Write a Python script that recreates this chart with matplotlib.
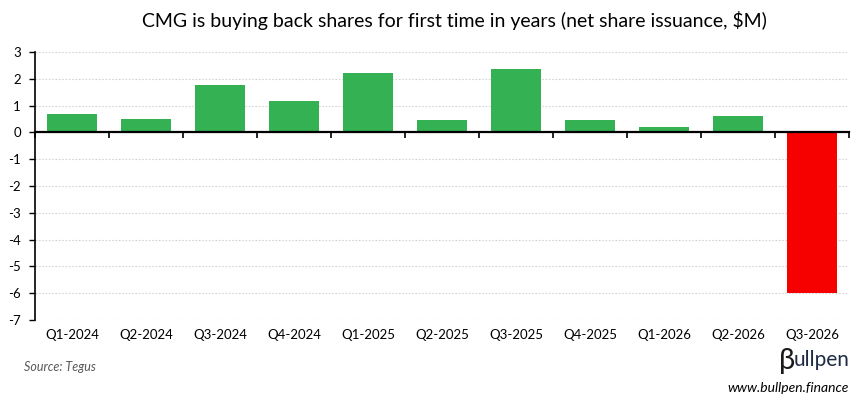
import matplotlib
matplotlib.use("Agg")
import matplotlib.pyplot as plt
import numpy as np

# data
quarters = ["Q1-2024", "Q2-2024", "Q3-2024", "Q4-2024", "Q1-2025", "Q2-2025",
            "Q3-2025", "Q4-2025", "Q1-2026", "Q2-2026", "Q3-2026"]
issuance = [0.7, 0.5, 1.78, 1.18, 2.22, 0.46, 2.37, 0.46, 0.2, 0.61, -6.0]
y_ticks = [3, 2, 1, 0, -1, -2, -3, -4, -5, -6, -7]

plt.rcParams['font.family'] = ['Lato', 'DejaVu Sans']

fig = plt.figure(figsize=(8.68, 4.05), dpi=100)
ax = fig.add_axes([0.0403, 0.21, 0.938, 0.6616])

x = np.arange(len(quarters))
colors = ['#34B153' if v >= 0 else '#F70000' for v in issuance]
ax.bar(x, issuance, width=0.67, color=colors, zorder=2)

ax.set_xlim(-0.5, len(quarters) - 0.5)
ax.set_ylim(-7, 3)
ax.set_yticks(y_ticks)
ax.set_yticklabels([str(t) for t in y_ticks], fontsize=9.5)
ax.grid(axis='y', color='#d4d4d4', linestyle=(0, (1.5, 1.5)), linewidth=0.8, zorder=0)

# zero line with category boundary ticks
ax.spines['bottom'].set_position(('data', 0))
ax.spines['bottom'].set_linewidth(1.6)
ax.spines['bottom'].set_zorder(3)
ax.spines['left'].set_linewidth(1.2)
ax.spines['top'].set_visible(False)
ax.spines['right'].set_visible(False)
ax.set_xticks(np.arange(len(quarters) + 1) - 0.5)
ax.set_xticklabels([])
ax.tick_params(axis='x', length=4, width=1.2, direction='out')
ax.tick_params(axis='y', length=4, width=1.0, direction='out', pad=6)

for i, lab in enumerate(quarters):
    ax.text(i, -0.035, lab, transform=ax.get_xaxis_transform(),
            ha='center', va='top', fontsize=9.5)

fig.text(0.523, 0.95, "CMG is buying back shares for first time in years (net share issuance, $M)",
         ha='center', va='center', fontsize=14)
fig.text(0.028, 0.093, "Source: Tegus", fontsize=9, style='italic', color='#595959',
         ha='left', va='center')
fig.text(0.916, 0.108, "β", fontsize=21, color='#1a1a1a', ha='right', va='center')
fig.text(0.914, 0.112, "ullpen", fontsize=15, color='#1f2a44', ha='left', va='center')
fig.text(0.978, 0.042, "www.bullpen.finance", fontsize=10, style='italic', color='black',
         ha='right', va='center')

fig.savefig("out.png", dpi=100)
